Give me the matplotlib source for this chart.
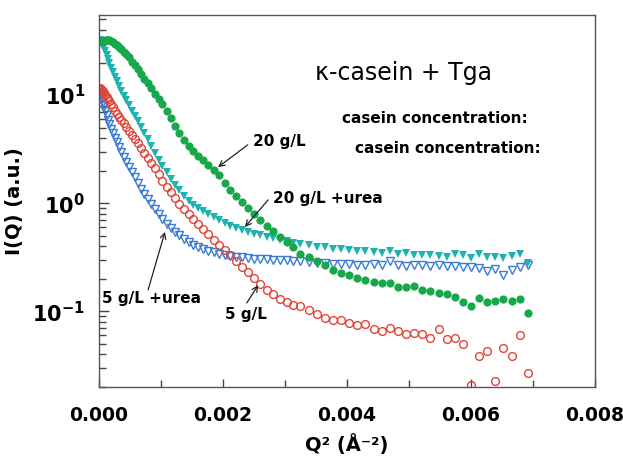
import matplotlib
matplotlib.use("Agg")
import matplotlib.pyplot as plt
import numpy as np

# Q^2 positions of the points, in units of 1e-3 A^-2
q2 = [0.016, 0.025, 0.036, 0.049, 0.064, 0.081, 0.100, 0.121, 0.144, 0.169,
      0.196, 0.225, 0.256, 0.289, 0.324, 0.361, 0.400, 0.441, 0.484, 0.529,
      0.576, 0.625, 0.676, 0.729, 0.784, 0.841, 0.900, 0.961, 1.024, 1.089,
      1.156, 1.225, 1.296, 1.369, 1.444, 1.521, 1.600, 1.681, 1.764, 1.849,
      1.936, 2.025, 2.116, 2.209, 2.304, 2.401, 2.500, 2.601, 2.704, 2.809,
      2.916, 3.025, 3.136, 3.249, 3.380, 3.511, 3.642, 3.773, 3.904, 4.035,
      4.166, 4.297, 4.428, 4.559, 4.690, 4.821, 4.952, 5.083, 5.214, 5.345,
      5.476, 5.607, 5.738, 5.869, 6.000, 6.131, 6.262, 6.393, 6.524, 6.655,
      6.786, 6.917]

# 20 g/L
i_20 = [31.3, 31.3, 31.3, 31.3, 31.6, 31.6, 32.0, 32.0, 32.0, 32.0,
        31.6, 30.9, 29.9, 29.3, 28.0, 26.8, 25.1, 23.8, 22.3, 20.4,
        18.9, 17.3, 15.7, 14.2, 12.9, 11.7, 10.3, 9.26, 8.21, 7.11,
        6.11, 5.18, 4.44, 3.85, 3.41, 3.03, 2.74, 2.51, 2.25, 2.02,
        1.81, 1.53, 1.33, 1.17, 1.02, 0.90, 0.794, 0.700, 0.611, 0.551,
        0.491, 0.442, 0.390, 0.340, 0.316, 0.291, 0.268, 0.241, 0.226, 0.217,
        0.204, 0.195, 0.187, 0.184, 0.184, 0.169, 0.169, 0.172, 0.158, 0.154,
        0.149, 0.146, 0.137, 0.123, 0.111, 0.134, 0.123, 0.126, 0.131, 0.126,
        0.129, 0.096]

# 20 g/L + urea
i_20u = [32.0, 31.3, 30.3, 29.3, 28.6, 28.0, 25.7, 23.5, 21.5, 19.7,
         17.9, 16.2, 14.8, 13.4, 12.2, 10.9, 9.89, 8.96, 8.03, 7.20,
         6.45, 5.78, 5.07, 4.44, 3.89, 3.41, 2.93, 2.51, 2.20, 1.93,
         1.69, 1.48, 1.32, 1.17, 1.06, 0.969, 0.901, 0.846, 0.794, 0.746,
         0.700, 0.658, 0.618, 0.586, 0.562, 0.539, 0.523, 0.507, 0.491, 0.476,
         0.461, 0.447, 0.433, 0.424, 0.411, 0.398, 0.390, 0.378, 0.374, 0.370,
         0.362, 0.359, 0.355, 0.344, 0.359, 0.337, 0.344, 0.333, 0.330, 0.330,
         0.323, 0.320, 0.337, 0.330, 0.310, 0.337, 0.320, 0.316, 0.310, 0.323,
         0.337, 0.279]

# 5 g/L
i_5 = [11.7, 11.4, 11.2, 11.0, 10.8, 10.4, 10.1, 9.68, 9.16, 8.77,
       8.21, 7.69, 7.20, 6.74, 6.31, 5.91, 5.47, 5.07, 4.64, 4.25,
       3.89, 3.57, 3.23, 2.93, 2.62, 2.38, 2.11, 1.85, 1.62, 1.42,
       1.26, 1.12, 0.990, 0.882, 0.794, 0.716, 0.638, 0.574, 0.517, 0.461,
       0.415, 0.370, 0.330, 0.291, 0.259, 0.231, 0.204, 0.180, 0.158, 0.144,
       0.131, 0.121, 0.115, 0.111, 0.104, 0.094, 0.0863, 0.0828, 0.0828, 0.0778,
       0.0746, 0.0762, 0.0686, 0.0658, 0.0700, 0.0658, 0.0618, 0.0631, 0.0618, 0.0569,
       0.0686, 0.0556, 0.0569, 0.0501, 0.0208, 0.0390, 0.0433, 0.0226, 0.0461, 0.0390,
       0.0605, 0.0267]

# 5 g/L + urea
i_5u = [10.7, 10.4, 10.0, 9.36, 8.58, 7.86, 7.20, 6.52, 5.91, 5.41,
        4.90, 4.44, 4.02, 3.69, 3.34, 2.99, 2.68, 2.40, 2.15, 1.93,
        1.73, 1.53, 1.36, 1.22, 1.09, 0.979, 0.882, 0.794, 0.708, 0.644,
        0.593, 0.545, 0.507, 0.471, 0.442, 0.415, 0.394, 0.378, 0.362, 0.351,
        0.340, 0.333, 0.327, 0.320, 0.316, 0.310, 0.306, 0.303, 0.303, 0.300,
        0.297, 0.297, 0.294, 0.291, 0.285, 0.282, 0.279, 0.273, 0.276, 0.273,
        0.270, 0.268, 0.273, 0.270, 0.291, 0.268, 0.265, 0.268, 0.268, 0.265,
        0.268, 0.262, 0.262, 0.259, 0.256, 0.254, 0.236, 0.246, 0.217, 0.241,
        0.256, 0.268]

x_ticks = [0.000, 0.002, 0.004, 0.006, 0.008]
y_ticks = [0.1, 1, 10]
y_ticklabels = [r"$\mathbf{10^{-1}}$", r"$\mathbf{10^{0}}$", r"$\mathbf{10^{1}}$"]

x = np.array(q2) * 1e-3

fig = plt.figure(figsize=(6.23, 4.62), dpi=100)
ax = fig.add_axes([99 / 623, 1 - 387 / 462, 496 / 623, 372 / 462])

ax.plot(x, i_5u, linestyle="none", marker="v", markersize=6.0,
        markerfacecolor="none", markeredgecolor="#3b7bd4", markeredgewidth=1.0)
ax.plot(x, i_5, linestyle="none", marker="o", markersize=5.6,
        markerfacecolor="none", markeredgecolor="#e0453a", markeredgewidth=1.0)
ax.plot(x, i_20u, linestyle="none", marker="v", markersize=6.4,
        color="#1db3b0", markeredgewidth=0)
ax.plot(x, i_20, linestyle="none", marker="o", markersize=5.9,
        color="#17a84b", markeredgewidth=0)

ax.set_yscale("log")
ax.set_xlim(0, 0.008)
ax.set_ylim(0.02, 55)

ax.set_xticks(x_ticks)
ax.set_xticklabels([f"{v:.3f}" for v in x_ticks])
ax.set_xticks([0.001, 0.003, 0.005, 0.007], minor=True)
ax.set_yticks(y_ticks)
ax.set_yticklabels(y_ticklabels)
ax.yaxis.set_minor_locator(matplotlib.ticker.LogLocator(base=10, subs=np.arange(2, 10)))
ax.yaxis.set_minor_formatter(matplotlib.ticker.NullFormatter())

ax.tick_params(axis="both", which="both", direction="in", colors="#444444",
               labelcolor="black")
ax.tick_params(axis="x", which="major", length=6, width=1, pad=14, labelsize=13.5)
ax.tick_params(axis="x", which="minor", length=5, width=1)
ax.tick_params(axis="y", which="major", length=7, width=1, pad=10, labelsize=15)
ax.tick_params(axis="y", which="minor", length=5, width=1)
for lab in ax.get_xticklabels():
    lab.set_fontweight("bold")

for s in ax.spines.values():
    s.set_color("#555555")
    s.set_linewidth(1.0)

ax.set_xlabel("Q² (Å⁻²)", fontsize=14, fontweight="bold", labelpad=6)
ax.set_ylabel("I(Q) (a.u.)", fontsize=14, fontweight="bold")
ax.yaxis.set_label_coords(-0.152, 0.5)

# texts
ax.text(0.613, 0.844, "κ-casein + Tga", transform=ax.transAxes, fontsize=17,
        ha="center", va="center")
ax.text(0.677, 0.723, "casein concentration:", transform=ax.transAxes,
        fontsize=11, fontweight="bold", ha="center", va="center")
ax.text(0.704, 0.642, "casein concentration:", transform=ax.transAxes,
        fontsize=11, fontweight="bold", ha="center", va="center")

labels = [
    ("20 g/L", (0.310, 0.661), (0.300, 0.651), (0.240, 0.591)),
    ("20 g/L +urea", (0.351, 0.508), (0.341, 0.503), (0.294, 0.430)),
    ("5 g/L +urea", (0.006, 0.237), (0.099, 0.261), (0.133, 0.417)),
    ("5 g/L", (0.254, 0.194), (0.298, 0.226), (0.321, 0.274)),
]
for txt, pos, tail, head in labels:
    ax.text(pos[0], pos[1], txt, transform=ax.transAxes, fontsize=11,
            fontweight="bold", ha="left", va="center")
    ax.annotate("", xy=head, xytext=tail, xycoords="axes fraction",
                textcoords="axes fraction",
                arrowprops=dict(arrowstyle="->", color="#222222", lw=0.9,
                                shrinkA=0, shrinkB=0))

fig.savefig("out.png", dpi=100)
